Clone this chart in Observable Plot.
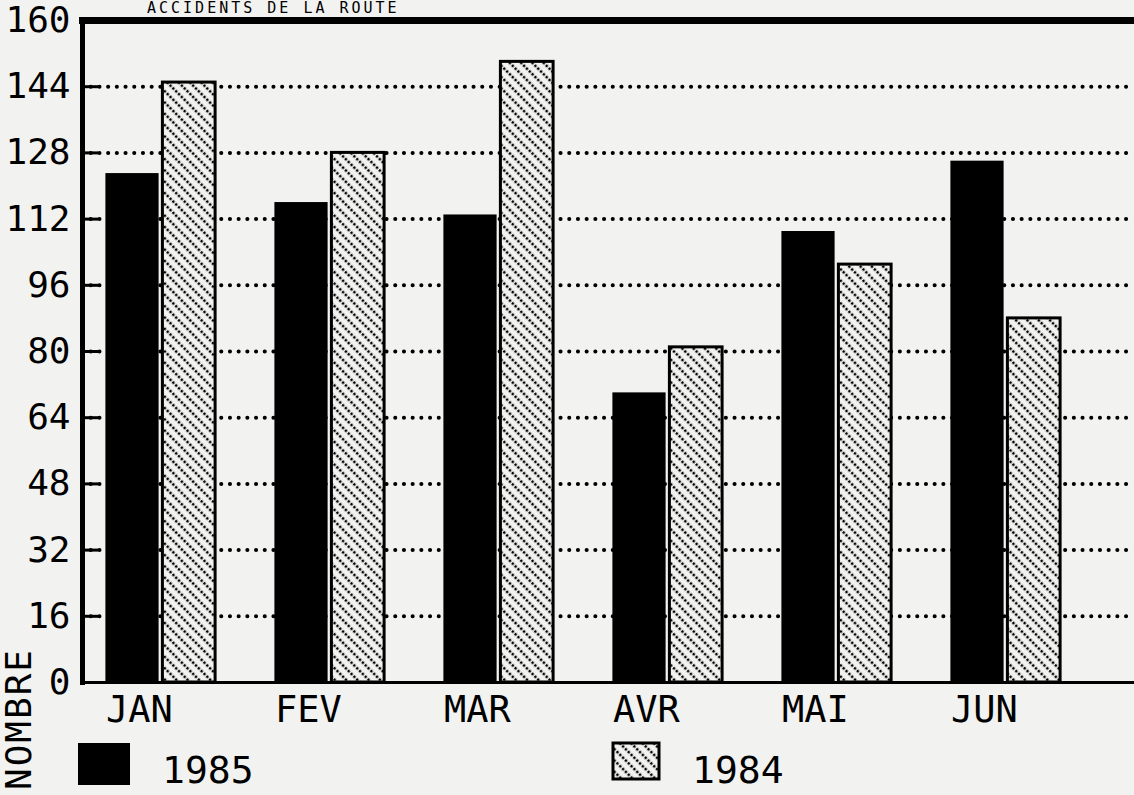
<!DOCTYPE html>
<html>
<head>
<meta charset="utf-8">
<script src="https://cdn.jsdelivr.net/npm/d3@7"></script>
<script src="https://cdn.jsdelivr.net/npm/@observablehq/plot@0.6"></script>
<style>
  body { margin: 0; background: #f2f2f0; font-family: "DejaVu Sans Mono", monospace; color: #000; }
  #wrap { position: relative; width: 1134px; height: 795px; overflow: hidden; background: #f2f2f0; }
  #title { position: absolute; left: 147px; top: 0px; font-size: 15px; line-height: 16px; white-space: nowrap; letter-spacing: 3px; }
  #chart { position: absolute; left: 0; top: 0; }
  #legend { position: absolute; left: 0; top: 740px; }
  #ylab { position: absolute; left: 0; top: 600px; }
</style>
</head>
<body>
<svg width="0" height="0" style="position:absolute">
  <defs>
    <pattern id="hatch" patternUnits="userSpaceOnUse" width="8" height="8" patternTransform="rotate(45)">
      <rect width="8" height="8" fill="#f2f2f0"></rect>
      <line x1="0" y1="4" x2="8" y2="4" stroke="#000" stroke-width="2.6" stroke-dasharray="2.4 1.6"></line>
    </pattern>
  </defs>
</svg>
<div id="wrap">
  <div id="title"></div>
  <div id="chart"></div>
  <div id="legend"></div>
  <div id="ylab"></div>
</div>
<script>
const titleText = "ACCIDENTS DE LA ROUTE";
const yLabel = "NOMBRE";
const months = ["JAN", "FEV", "MAR", "AVR", "MAI", "JUN"];
const seriesNames = ["1985", "1984"];
const values1985 = [123, 116, 113, 70, 109, 126];
const values1984 = [145, 128, 150, 81, 101, 88];
const yTicks = [0, 16, 32, 48, 64, 80, 96, 112, 128, 144, 160];

document.getElementById("title").textContent = titleText;

const data1985 = months.map((m, i) => ({month: m, value: values1985[i]}));
const data1984 = months.map((m, i) => ({month: m, value: values1984[i]}));
const innerTicks = yTicks.filter(d => d > 0 && d < 160);

const chart = Plot.plot({
  width: 1134,
  height: 740,
  marginLeft: 82,
  marginRight: 0,
  marginTop: 20,
  marginBottom: 58,
  style: {fontFamily: "DejaVu Sans Mono", background: "transparent", color: "#000", overflow: "visible"},
  x: {type: "band", domain: months, range: [73.6, 1092.4], padding: 0},
  y: {domain: [0, 160]},
  marks: [
    Plot.ruleY(innerTicks, {stroke: "#000", strokeWidth: 4, strokeDasharray: "0.1 8.6", strokeLinecap: "round"}),
    Plot.ruleY(innerTicks, {stroke: "#000", strokeWidth: 3, insetRight: 1036}),
    Plot.barY(data1985, {x: "month", y: "value", fill: "#000", insetLeft: 29.4, insetRight: 86.4}),
    Plot.barY(data1984, {x: "month", y: "value", fill: "url(#hatch)", stroke: "#000", strokeWidth: 3, insetLeft: 86.4, insetRight: 29.9}),
    Plot.frame({anchor: "left", strokeWidth: 5}),
    Plot.frame({anchor: "top", strokeWidth: 7}),
    Plot.frame({anchor: "bottom", strokeWidth: 3}),
    Plot.axisY({ticks: yTicks, tickSize: 0, tickPadding: 12, fontSize: 36, label: null}),
    Plot.axisX({tickSize: 0, tickPadding: 13, textAnchor: "start", dx: -55, fontSize: 37, label: null})
  ]
});
document.getElementById("chart").appendChild(chart);

const ns = "http://www.w3.org/2000/svg";

// rotated y label
const ys = document.createElementNS(ns, "svg");
ys.setAttribute("width", 40);
ys.setAttribute("height", 195);
const yt = document.createElementNS(ns, "text");
yt.setAttribute("transform", "translate(31,190) rotate(-90)");
yt.setAttribute("font-size", 36);
yt.setAttribute("letter-spacing", 2);
yt.setAttribute("font-family", "DejaVu Sans Mono");
yt.textContent = yLabel;
ys.appendChild(yt);
document.getElementById("ylab").appendChild(ys);

// legend
const lg = document.createElementNS(ns, "svg");
lg.setAttribute("width", 1134);
lg.setAttribute("height", 55);
const items = [
  {name: seriesNames[0], fill: "#000", stroke: "none", x: 78, w: 52, h: 42, tx: 162},
  {name: seriesNames[1], fill: "url(#hatch)", stroke: "#000", x: 613, w: 46, h: 36, tx: 692}
];
for (const it of items) {
  const r = document.createElementNS(ns, "rect");
  r.setAttribute("x", it.x); r.setAttribute("y", 3);
  r.setAttribute("width", it.w); r.setAttribute("height", it.h);
  r.setAttribute("fill", it.fill); r.setAttribute("stroke", it.stroke); r.setAttribute("stroke-width", 3);
  lg.appendChild(r);
  const t = document.createElementNS(ns, "text");
  t.setAttribute("x", it.tx); t.setAttribute("y", 43);
  t.setAttribute("font-size", 38); t.setAttribute("font-family", "DejaVu Sans Mono");
  t.textContent = it.name;
  lg.appendChild(t);
}
document.getElementById("legend").appendChild(lg);
</script>
</body>
</html>
